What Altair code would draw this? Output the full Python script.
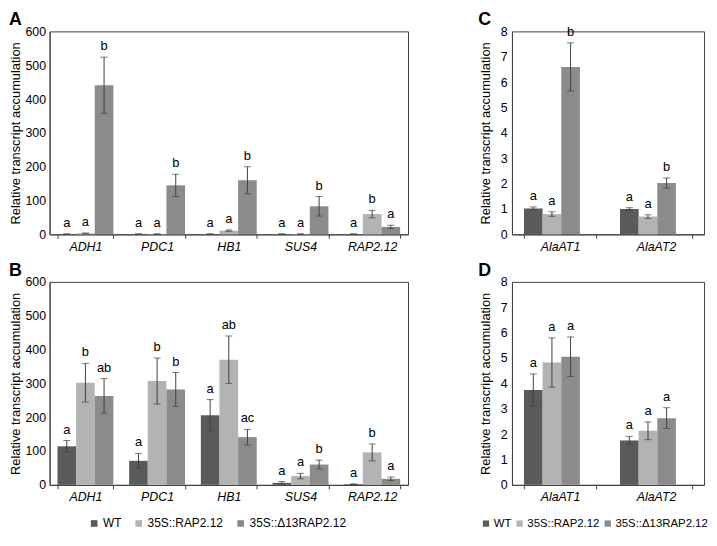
import altair as alt
import pandas as pd

series = ["WT", "35S::RAP2.12", "35S::Δ13RAP2.12"]
colors = ["#5a5a5a", "#b3b3b3", "#8b8b8b"]

genes_ab = ["ADH1", "PDC1", "HB1", "SUS4", "RAP2.12"]
genes_cd = ["AlaAT1", "AlaAT2"]
panel_letters = ["A", "B", "C", "D"]

# Panel A
a_wt = [1, 1, 1, 1, 1]
a_wt_err = [0.3, 0.3, 0.3, 0.3, 0.3]
a_rap = [3, 1, 11, 1, 60]
a_rap_err = [1, 0.3, 2, 0.3, 11]
a_d13 = [441, 145, 160, 83, 22]
a_d13_err = [83, 33, 40, 29, 5]
a_wt_lab = ["a", "a", "a", "a", "a"]
a_rap_lab = ["a", "a", "a", "a", "b"]
a_d13_lab = ["b", "b", "b", "b", "a"]

# Panel B
b_wt = [114, 71, 206, 6, 2]
b_wt_err = [17, 22, 46, 4, 1]
b_rap = [302, 307, 370, 26, 96]
b_rap_err = [57, 68, 70, 8, 25]
b_d13 = [263, 282, 141, 60, 18]
b_d13_err = [51, 50, 23, 13, 5]
b_wt_lab = ["a", "a", "a", "a", "a"]
b_rap_lab = ["b", "b", "ab", "a", "b"]
b_d13_lab = ["ab", "b", "ac", "b", "a"]

# Panel C
c_wt = [1.02, 1.0]
c_wt_err = [0.06, 0.05]
c_rap = [0.8, 0.7]
c_rap_err = [0.09, 0.07]
c_d13 = [6.6, 2.02]
c_d13_err = [0.95, 0.2]
c_wt_lab = ["a", "a"]
c_rap_lab = ["a", "a"]
c_d13_lab = ["b", "b"]

# Panel D
d_wt = [3.74, 1.75]
d_wt_err = [0.63, 0.16]
d_rap = [4.82, 2.13]
d_rap_err = [0.97, 0.35]
d_d13 = [5.05, 2.63]
d_d13_err = [0.78, 0.41]
d_wt_lab = ["a", "a"]
d_rap_lab = ["a", "a"]
d_d13_lab = ["a", "a"]

FONT = "Liberation Sans"
LINE = "#404040"


def make_df(genes, vals, errs, labs):
    rows = []
    for s, v, e, l in zip(series, vals, errs, labs):
        for g, vv, ee, ll in zip(genes, v, e, l):
            rows.append({"gene": g, "series": s, "value": vv,
                         "lo": max(vv - ee, 0), "hi": vv + ee, "lab": ll})
    return pd.DataFrame(rows)


def panel(df, genes, ymax, step, letter, width, height, pin, legend,
          lpad, tpad, letter_x):
    x = alt.X("gene:N", sort=genes,
              scale=alt.Scale(paddingInner=pin, paddingOuter=pin / 2),
              axis=alt.Axis(title=None, labelAngle=0, labelFontStyle="italic",
                            tickBand="extent", ticks=True, tickSize=4,
                            tickColor=LINE, domainColor=LINE, labelPadding=2,
                            labelFontSize=12.5, labelColor="black"))
    xo = alt.XOffset("series:N", sort=series,
                     scale=alt.Scale(paddingInner=0, paddingOuter=0))
    yax = alt.Axis(title="Relative transcript accumulation",
                   values=list(range(0, ymax + 1, step)), grid=False,
                   ticks=False, labelPadding=lpad, titlePadding=tpad,
                   labelOverlap=False,
                   domainColor=LINE, labelFontSize=12.5, titleFontSize=13,
                   titleFontWeight="normal", labelColor="black",
                   titleColor="black")
    ysc = alt.Scale(domain=[0, ymax], nice=False)

    def Y(field):
        return alt.Y(field, scale=ysc, axis=yax)

    color = alt.Color("series:N", sort=series,
                      scale=alt.Scale(domain=series, range=colors),
                      legend=legend)
    base = alt.Chart(df)
    bars = base.mark_bar().encode(x=x, xOffset=xo, y=Y("value:Q"), color=color)
    rule = base.mark_rule(color=LINE, strokeWidth=1).encode(
        x=x, xOffset=xo, y=Y("lo:Q"), y2="hi:Q")
    cap_hi = base.mark_tick(color=LINE, orient="horizontal", size=7,
                            thickness=1).encode(x=x, xOffset=xo, y=Y("hi:Q"))
    cap_lo = base.mark_tick(color=LINE, orient="horizontal", size=7,
                            thickness=1).encode(x=x, xOffset=xo, y=Y("lo:Q"))
    txt = base.mark_text(baseline="bottom", dy=-4, fontSize=13, font=FONT,
                         color="black").encode(x=x, xOffset=xo, y=Y("hi:Q"),
                                               text="lab:N")
    let = alt.Chart(pd.DataFrame({"t": [letter]})).mark_text(
        align="left", baseline="top", fontSize=18, fontWeight="bold",
        font=FONT, color="black").encode(
        text="t:N", x=alt.value(letter_x), y=alt.value(-20))
    return alt.layer(bars, rule, cap_hi, cap_lo, txt, let).properties(
        width=width, height=height)


H = 205
WL = 362
WR = 194

dfA = make_df(genes_ab, [a_wt, a_rap, a_d13], [a_wt_err, a_rap_err, a_d13_err],
              [a_wt_lab, a_rap_lab, a_d13_lab])
dfB = make_df(genes_ab, [b_wt, b_rap, b_d13], [b_wt_err, b_rap_err, b_d13_err],
              [b_wt_lab, b_rap_lab, b_d13_lab])
dfC = make_df(genes_cd, [c_wt, c_rap, c_d13], [c_wt_err, c_rap_err, c_d13_err],
              [c_wt_lab, c_rap_lab, c_d13_lab])
dfD = make_df(genes_cd, [d_wt, d_rap, d_d13], [d_wt_err, d_rap_err, d_d13_err],
              [d_wt_lab, d_rap_lab, d_d13_lab])

legB = alt.Legend(orient="none", legendX=39, legendY=H + 33, direction="horizontal",
                  title=None, symbolType="square", symbolSize=45,
                  symbolStrokeWidth=0, labelFontSize=12, labelFont=FONT,
                  labelColor="black", columnPadding=11, labelOffset=3,
                  columns=3)
legD = alt.Legend(orient="none", legendX=-32, legendY=H + 33, direction="horizontal",
                  title=None, symbolType="square", symbolSize=40,
                  symbolStrokeWidth=0, labelFontSize=11.5, labelFont=FONT,
                  labelColor="black", columnPadding=2, labelOffset=2,
                  columns=3)

pA = panel(dfA, genes_ab, 600, 100, panel_letters[0], WL, H, 0.22, None, 4, 3, -41)
pB = panel(dfB, genes_ab, 600, 100, panel_letters[1], WL, H, 0.22, legB, 4, 3, -41)
pC = panel(dfC, genes_cd, 8, 1, panel_letters[2], WR, H, 0.25, None, 5, 8, -34)
pD = panel(dfD, genes_cd, 8, 1, panel_letters[3], WR, H, 0.25, legD, 5, 8, -34)

left = alt.vconcat(pA, pB, spacing=8).resolve_scale(color="independent")
right = alt.vconcat(pC, pD, spacing=8).resolve_scale(color="independent")

chart = alt.hconcat(left, right, spacing=69).resolve_scale(
    color="independent").properties(padding=0).configure(
    font=FONT).configure_view(stroke=LINE, strokeWidth=1)

chart.save("out.html", embed_options={"renderer": "svg", "actions": False})
